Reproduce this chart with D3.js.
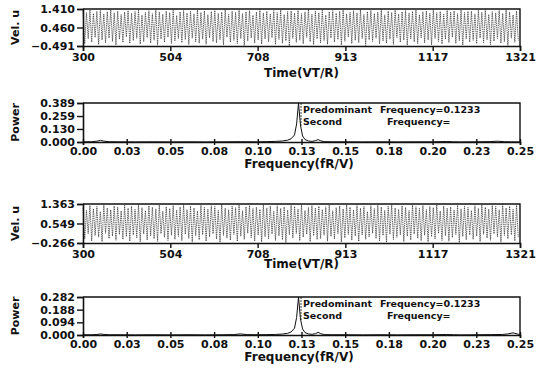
<!DOCTYPE html>
<html>
<head>
<meta charset="utf-8">
<script src="https://cdn.jsdelivr.net/npm/d3@7.9.0/dist/d3.min.js"></script>
<style>
  body { margin: 0; background: #fff; }
  svg { display: block; }
  text { font-family: "DejaVu Sans", sans-serif; font-weight: bold; fill: #111; }
</style>
</head>
<body>
<svg width="543" height="370"></svg>
<script>
// time-series: one peak and one trough per cycle
const timeStart = 300, timeEnd = 1321;
const timeTicks = [300, 504, 708, 913, 1117, 1321];

const velTicks1 = [-0.491, 0.460, 1.410];
const velPeaks1 = [
  1.31,1.22,1.36,1.18,1.29,1.34,1.15,1.27,1.38,1.21,1.30,1.12,1.25,1.33,
  1.19,1.28,1.35,1.10,1.24,1.32,1.17,1.37,1.26,1.14,1.30,1.22,1.35,1.08,
  1.27,1.33,1.20,1.29,1.16,1.36,1.23,1.31,1.11,1.28,1.34,1.19,1.25,1.37,
  1.13,1.30,1.24,1.35,1.18,1.27,1.32,1.09,1.26,1.38,1.21,1.29,1.15,1.33,
  1.23,1.36,1.12,1.28,1.31,1.20,1.34,1.17,1.26,1.39,1.14,1.30,1.22,1.35,
  1.10,1.27,1.33,1.19,1.29,1.36,1.16,1.24,1.32,1.21,1.37,1.13,1.28,1.34,
  1.18,1.25,1.38,1.11,1.30,1.23,1.35,1.15,1.27,1.33,1.20,1.29,1.36,1.12,
  1.26,1.32,1.19,1.37,1.22,1.28,1.14,1.34,1.25,1.31,1.17,1.36,1.23,1.29,
  1.30,1.16,1.35,1.24,1.38,1.13,1.27,1.21,1.33,1.19,1.36,1.26,1.11,1.31
];
const velTroughs1 = [
  -0.38,-0.12,-0.29,-0.05,-0.41,-0.18,-0.33,-0.08,-0.25,-0.44,-0.15,-0.31,-0.02,-0.36,
  -0.21,-0.10,-0.39,-0.27,-0.06,-0.34,-0.19,-0.45,-0.13,-0.30,-0.04,-0.37,-0.23,-0.11,
  -0.32,-0.16,-0.42,-0.09,-0.28,-0.35,-0.14,-0.40,-0.07,-0.26,-0.33,-0.17,-0.43,-0.03,
  -0.30,-0.20,-0.37,-0.11,-0.46,-0.24,-0.08,-0.34,-0.18,-0.39,-0.13,-0.28,-0.06,-0.41,
  -0.15,-0.35,-0.22,-0.48,-0.10,-0.31,-0.19,-0.38,-0.05,-0.27,-0.42,-0.12,-0.33,-0.21,
  -0.40,-0.08,-0.29,-0.16,-0.44,-0.25,-0.03,-0.36,-0.20,-0.32,-0.11,-0.47,-0.17,-0.26,
  -0.09,-0.38,-0.23,-0.34,-0.14,-0.41,-0.06,-0.30,-0.19,-0.45,-0.12,-0.28,-0.37,-0.07,
  -0.33,-0.18,-0.43,-0.10,-0.26,-0.39,-0.15,-0.31,-0.04,-0.36,-0.22,-0.44,-0.13,-0.29,
  -0.20,-0.37,-0.08,-0.32,-0.17,-0.42,-0.24,-0.11,-0.35,-0.27,-0.46,-0.09,-0.30,-0.21
];

const velTicks2 = [-0.266, 0.549, 1.363];
const velPeaks2 = [
  1.22,1.10,1.30,1.17,1.26,1.05,1.33,1.20,1.12,1.28,1.24,1.08,1.31,1.19,
  1.27,1.14,1.34,1.21,1.09,1.29,1.23,1.16,1.32,1.06,1.25,1.18,1.30,1.11,
  1.24,1.33,1.13,1.28,1.20,1.07,1.31,1.22,1.15,1.29,1.26,1.10,1.34,1.19,
  1.12,1.27,1.21,1.32,1.08,1.25,1.30,1.17,1.23,1.14,1.33,1.20,1.28,1.06,
  1.29,1.18,1.24,1.11,1.31,1.26,1.15,1.34,1.09,1.22,1.30,1.19,1.27,1.13,
  1.25,1.32,1.08,1.21,1.28,1.16,1.33,1.23,1.12,1.30,1.19,1.26,1.05,1.29,
  1.17,1.31,1.24,1.10,1.27,1.34,1.20,1.14,1.29,1.22,1.09,1.32,1.25,1.18,
  1.30,1.13,1.26,1.21,1.33,1.07,1.28,1.19,1.24,1.11,1.31,1.16,1.27,1.22,
  1.09,1.29,1.18,1.32,1.23,1.15,1.30,1.26,1.12,1.34,1.20,1.27,1.14,1.31
];
const velTroughs2 = [
  -0.10,0.12,-0.18,0.05,-0.02,-0.21,0.14,-0.08,0.02,-0.15,0.09,-0.12,0.00,-0.19,
  0.07,-0.05,-0.22,0.11,-0.14,0.03,-0.09,-0.20,0.13,-0.03,-0.16,0.06,-0.11,0.01,
  -0.17,0.10,-0.07,-0.23,0.04,-0.13,0.08,-0.19,-0.01,0.12,-0.10,-0.24,0.05,-0.06,
  -0.15,0.09,-0.20,0.02,-0.11,0.14,-0.04,-0.18,0.07,-0.22,0.00,-0.09,0.11,-0.16,
  0.03,-0.13,-0.25,0.08,-0.06,0.13,-0.17,-0.02,0.10,-0.21,0.04,-0.12,-0.08,0.06,
  -0.19,0.01,-0.10,0.12,-0.23,-0.05,0.09,-0.15,0.03,-0.20,0.07,-0.11,-0.01,0.14,
  -0.08,-0.18,0.05,-0.24,0.10,-0.12,-0.03,0.08,-0.21,0.02,-0.14,0.11,-0.07,-0.17,
  0.06,-0.22,0.00,-0.09,0.13,-0.16,0.04,-0.19,-0.04,0.09,-0.25,0.01,-0.13,0.07,
  -0.11,0.03,-0.20,0.10,-0.06,-0.15,0.12,-0.01,-0.23,0.05,-0.09,0.08,-0.18,-0.02
];

// spectra
const freqTicks = [0, 0.025, 0.05, 0.075, 0.1, 0.125, 0.15, 0.175, 0.2, 0.225, 0.25];
const freqLabels = ['0.00','0.03','0.05','0.08','0.10','0.13','0.15','0.18','0.20','0.23','0.25'];

const freq1 = [0,0.005,0.008,0.010,0.012,0.015,0.02,0.03,0.04,0.05,0.06,0.07,0.08,0.09,0.10,0.105,0.11,0.114,0.117,0.119,0.121,0.1222,0.1233,0.1244,0.1256,0.127,0.129,0.131,0.133,0.1345,0.136,0.138,0.142,0.15,0.16,0.17,0.18,0.19,0.2,0.208,0.212,0.216,0.225,0.233,0.237,0.241,0.245,0.25];
const power1 = [0.002,0.003,0.008,0.016,0.008,0.003,0.002,0.001,0.002,0.001,0.002,0.001,0.002,0.003,0.002,0.004,0.006,0.010,0.018,0.032,0.070,0.180,0.389,0.170,0.060,0.025,0.010,0.006,0.014,0.024,0.012,0.004,0.002,0.002,0.001,0.002,0.001,0.002,0.002,0.005,0.002,0.001,0.002,0.004,0.008,0.003,0.002,0.001];
const powerTicks1 = [0, 0.130, 0.259, 0.389];

const freq2 = [0,0.005,0.008,0.010,0.012,0.015,0.02,0.03,0.04,0.05,0.06,0.07,0.08,0.086,0.09,0.094,0.10,0.105,0.11,0.114,0.117,0.119,0.121,0.1222,0.1233,0.1244,0.1256,0.127,0.129,0.131,0.133,0.1345,0.136,0.138,0.142,0.15,0.16,0.17,0.18,0.19,0.2,0.208,0.212,0.216,0.225,0.233,0.24,0.243,0.246,0.249,0.25];
const power2 = [0.002,0.002,0.004,0.008,0.004,0.002,0.002,0.001,0.002,0.001,0.002,0.001,0.002,0.003,0.008,0.003,0.002,0.003,0.004,0.007,0.012,0.022,0.050,0.130,0.282,0.120,0.045,0.018,0.008,0.005,0.010,0.020,0.010,0.003,0.002,0.002,0.001,0.002,0.001,0.002,0.002,0.004,0.002,0.001,0.002,0.003,0.004,0.008,0.016,0.006,0.002];
const powerTicks2 = [0, 0.094, 0.188, 0.282];

const svg = d3.select('svg');
const left = 83, right = 520;
const minus = v => v < 0 ? '\u2212' + Math.abs(v).toFixed(3) : v.toFixed(3);

function frame(g, x, y) {
  const [x0, x1] = x.range(), [y0, y1] = y.range();
  g.append('path')
    .attr('d', `M${x0},${y1}H${x1}V${y0}`)
    .attr('fill', 'none').attr('stroke', '#111').attr('stroke-width', 1.4);
}

function styleAxis(g) {
  g.selectAll('.domain').attr('stroke', '#111').attr('stroke-width', 1.6);
  g.selectAll('.tick line').attr('stroke', '#111').attr('stroke-width', 1.4);
  g.selectAll('.tick text').style('font-size', '11px').attr('fill', '#111');
}

function timePanel(top, bottom, ticks, peaks, troughs, titleY) {
  const x = d3.scaleLinear().domain([timeStart, timeEnd]).range([left, right]);
  const y = d3.scaleLinear().domain([ticks[0], ticks[2]]).range([bottom, top]);
  const step = (timeEnd - timeStart) / peaks.length;
  const pts = [];
  peaks.forEach((p, i) => {
    pts.push([timeStart + i * step, p]);
    pts.push([timeStart + (i + 0.5) * step, troughs[i]]);
  });
  const g = svg.append('g');
  g.append('path')
    .datum(pts)
    .attr('d', d3.line().x(d => x(d[0])).y(d => y(d[1])))
    .attr('fill', 'none').attr('stroke', '#3a3a3a').attr('stroke-width', 0.8)
    .attr('stroke-dasharray', '1.4,0.8');
  frame(g, x, y);
  g.append('g').attr('transform', `translate(0,${bottom})`)
    .call(d3.axisBottom(x).tickValues(timeTicks).tickFormat(d3.format('d')).tickSize(5).tickPadding(2))
    .call(styleAxis);
  g.append('g').attr('transform', `translate(${left},0)`)
    .call(d3.axisLeft(y).tickValues(ticks).tickFormat(minus).tickSize(6).tickPadding(2))
    .call(styleAxis);
  g.append('text').attr('x', (left + right) / 2).attr('y', titleY)
    .attr('text-anchor', 'middle').style('font-size', '12px').text('Time(VT/R)');
  g.append('text').attr('transform', `translate(19,${(top + bottom) / 2}) rotate(-90)`)
    .attr('text-anchor', 'middle').style('font-size', '11px').text('Vel.  u');
}

function powerPanel(top, bottom, ticks, freq, power, titleY) {
  const x = d3.scaleLinear().domain([0, 0.25]).range([left, right]);
  const y = d3.scaleLinear().domain([0, ticks[3]]).range([bottom, top]);
  const g = svg.append('g');
  g.append('path')
    .datum(d3.zip(freq, power))
    .attr('d', d3.line().x(d => x(d[0])).y(d => y(d[1])))
    .attr('fill', 'none').attr('stroke', '#111').attr('stroke-width', 1);
  frame(g, x, y);
  g.append('g').attr('transform', `translate(0,${bottom})`)
    .call(d3.axisBottom(x).tickValues(freqTicks).tickFormat((d, i) => freqLabels[i]).tickSize(3).tickPadding(2))
    .call(styleAxis)
    .call(a => a.selectAll('.tick line').attr('y1', -3));
  g.append('g').attr('transform', `translate(${left},0)`)
    .call(d3.axisLeft(y).tickValues(ticks).tickFormat(d => d.toFixed(3)).tickSize(6).tickPadding(2))
    .call(styleAxis);
  g.append('text').attr('x', 299).attr('y', titleY)
    .attr('text-anchor', 'middle').style('font-size', '12px').text('Frequency(fR/V)');
  g.append('text').attr('transform', `translate(19,${(top + bottom) / 2}) rotate(-90)`)
    .attr('text-anchor', 'middle').style('font-size', '11px').text('Power');
  // annotation box
  const bx = x(0.1233) + 2.5;
  g.append('line').attr('x1', bx).attr('x2', bx).attr('y1', top).attr('y2', top + 24)
    .attr('stroke', '#111').attr('stroke-width', 0.8).attr('stroke-dasharray', '2,1');
  const ann = g.append('g').style('font-size', '9.5px');
  ann.append('text').attr('x', bx + 2).attr('y', top + 10).text('Predominant');
  ann.append('text').attr('x', bx + 79).attr('y', top + 10).text('Frequency=0.1233');
  ann.append('text').attr('x', bx + 2).attr('y', top + 22).text('Second');
  ann.append('text').attr('x', bx + 86).attr('y', top + 22).text('Frequency=');
}

timePanel(9, 46, velTicks1, velPeaks1, velTroughs1, 77);
powerPanel(103, 142, powerTicks1, freq1, power1, 168);
timePanel(204, 243, velTicks2, velPeaks2, velTroughs2, 268);
powerPanel(297, 335, powerTicks2, freq2, power2, 361);
</script>
</body>
</html>
